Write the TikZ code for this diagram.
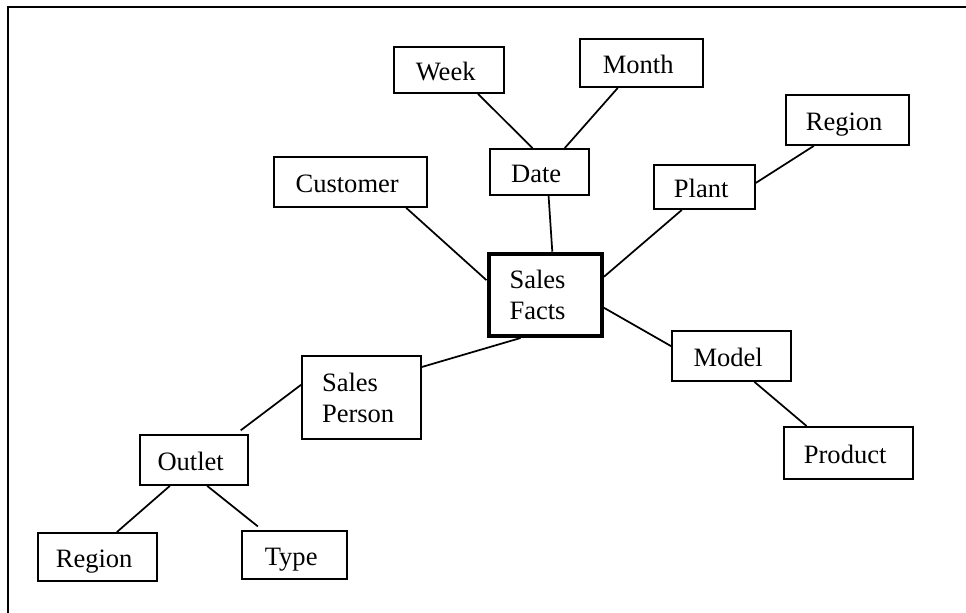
\documentclass[tikz,border=0pt]{standalone}
\usepackage{fontspec}
\setmainfont{Liberation Serif}
\usetikzlibrary{calc}
\begin{document}
\begin{tikzpicture}[x=0.75pt,y=-0.75pt,
  every node/.style={font=\fontsize{19.9pt}{23.25pt}\selectfont},
  boxbase/.style={draw,line width=1.35pt,rectangle,inner sep=0pt},
  box/.style={boxbase,text height=15.75pt,text depth=0pt,execute at end node={\hspace{5pt}}},
  twobox/.style={boxbase,align=left},
  conn/.style={line width=1.3pt}]
\useasboundingbox (0,0) rectangle (966,613);
\draw[line width=1.4pt] (8,640) -- (8,6.7) -- (990,6.7);

\node[box,minimum width=110*0.75pt,minimum height=46*0.75pt] (week) at (449,70) {Week};
\node[box,minimum width=123*0.75pt,minimum height=48*0.75pt] (month) at (641.5,63) {Month};
\node[box,minimum width=153*0.75pt,minimum height=50*0.75pt] (customer) at (350.5,182) {Customer};
\node[box,minimum width=99*0.75pt,minimum height=46*0.75pt] (date) at (539.5,172) {Date};
\node[box,minimum width=123*0.75pt,minimum height=50*0.75pt] (regiontr) at (847.5,120) {Region};
\node[box,minimum width=101*0.75pt,minimum height=44*0.75pt] (plant) at (704.5,187) {Plant};
\node[twobox,line width=3pt,minimum width=113.5*0.75pt,minimum height=82.3*0.75pt,text width=71.5*0.75pt] (sf) at (545.25,294.85) {Sales\\Facts};
\node[box,minimum width=119*0.75pt,minimum height=50*0.75pt] (model) at (731.5,356) {Model};
\node[box,minimum width=129*0.75pt,minimum height=52*0.75pt] (product) at (848.5,453) {Product};
\node[twobox,minimum width=119*0.75pt,minimum height=83*0.75pt,text width=79*0.75pt] (sp) at (361.5,397.5) {Sales\\Person};
\node[box,minimum width=108*0.75pt,minimum height=50*0.75pt] (outlet) at (194,460) {Outlet};
\node[box,minimum width=119*0.75pt,minimum height=48*0.75pt] (regionbl) at (97.5,557) {Region};
\node[box,minimum width=105*0.75pt,minimum height=48*0.75pt] (type) at (294.5,555) {Type};

\draw[conn] ($(week.south west)!0.76!(week.south east)$) -- ($(date.north west)!0.43!(date.north east)$);
\draw[conn] ($(month.south west)!0.31!(month.south east)$) -- ($(date.north west)!0.75!(date.north east)$);
\draw[conn] ($(customer.south west)!0.86!(customer.south east)$) -- ($(sf.north west)!0.33!(sf.south west)$);
\draw[conn] ($(date.south west)!0.59!(date.south east)$) -- ($(sf.north west)!0.56!(sf.north east)$);
\draw[conn] ($(plant.south west)!0.28!(plant.south east)$) -- ($(sf.north east)!0.29!(sf.south east)$);
\draw[conn] ($(plant.north east)!0.41!(plant.south east)$) -- ($(regiontr.south west)!0.23!(regiontr.south east)$);
\draw[conn] ($(sf.north east)!0.65!(sf.south east)$) -- ($(model.north west)!0.31!(model.south west)$);
\draw[conn] ($(model.south west)!0.69!(model.south east)$) -- ($(product.north west)!0.18!(product.north east)$);
\draw[conn] ($(sf.south west)!0.29!(sf.south east)$) -- ($(sp.north east)!0.14!(sp.south east)$);
\draw[conn,shorten >=4.7pt] ($(sp.north west)!0.35!(sp.south west)$) -- ($(outlet.north west)!0.88!(outlet.north east)$);
\draw[conn] ($(outlet.south west)!0.28!(outlet.south east)$) -- ($(regionbl.north west)!0.66!(regionbl.north east)$);
\draw[conn,shorten >=4.4pt] ($(outlet.south west)!0.62!(outlet.south east)$) -- ($(type.north west)!0.2!(type.north east)$);
\end{tikzpicture}
\end{document}
